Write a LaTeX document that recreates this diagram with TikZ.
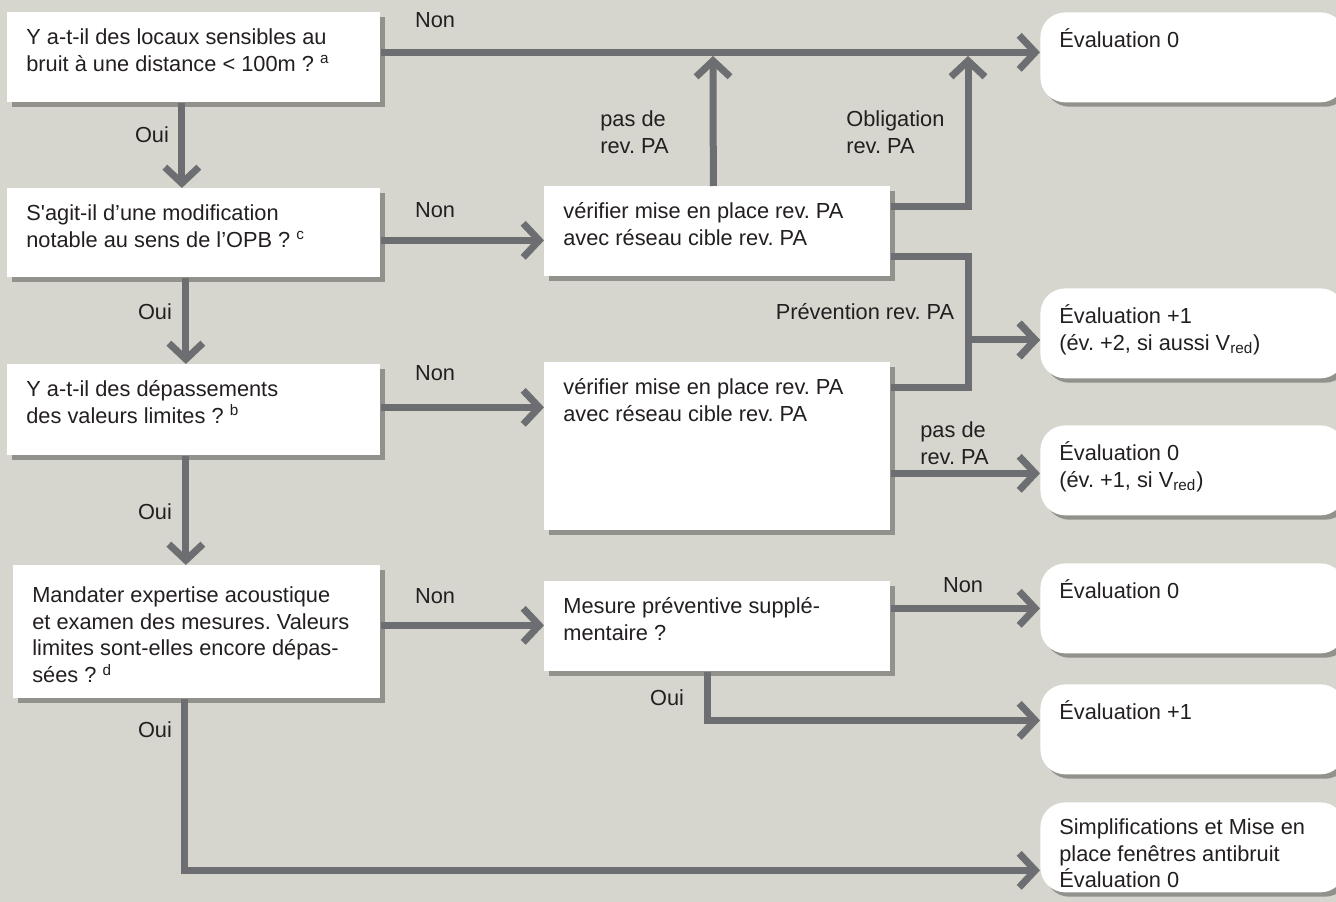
\documentclass[tikz,border=0pt]{standalone}
\usepackage{fontspec}
\setmainfont{Liberation Sans}[Ligatures=TeXOff]
\usetikzlibrary{arrows.meta,positioning,calc,shadows}
\definecolor{Ground}{HTML}{D6D6CE}
\definecolor{Wire}{HTML}{6D6E71}
\definecolor{Ink}{HTML}{231F20}
\newlength\pu
\setlength\pu{0.02cm}
\frenchspacing
\tikzset{
  card/.style 2 args={fill=white,text=Ink,anchor=north west,inner xsep=19\pu,inner ysep=0pt,
    text height=16\pu,text depth=#2\pu,
    execute at begin node={\begin{minipage}[t]{#1\pu}\raggedright},execute at end node={\end{minipage}},
    drop shadow={shadow xshift=2.5pt,shadow yshift=-2.5pt,opacity=.45,fill=black!75}},
  query/.style={card={335}{#1}},
  check/.style={card={308}{#1}},
  verdict/.style={card={267}{74},rounded corners=25\pu},
  flow/.style={draw=Wire,line width=7\pu,-{Straight Barb[length=.32cm,width=.68cm]}},
  tag/.style={text=Ink,inner sep=0pt,align=left}
}
\begin{document}
\begin{tikzpicture}[x=0.02cm,y=-0.02cm,font=\fontsize{12.4}{15.3}\selectfont]
  \useasboundingbox (0,0) rectangle (1336,902);
  \fill[Ground] (0,0) rectangle (1336,902);
  % questions
  \node[query=74] (q1) at (7,12) {Y a-t-il des locaux sensibles au\\bruit à une distance < 100m ? \textsuperscript{a}};
  \node[query=73] (q2) at (7,188) {S'agit-il d’une modification\\notable au sens de l’OPB ? \textsuperscript{c}};
  \node[query=75] (q3) at (7,364) {Y a-t-il des dépassements\\des valeurs limites ? \textsuperscript{b}};
  \node[card={329}{112},text height=21\pu] (q4) at (13,565) {Mandater expertise acoustique\\et examen des mesures. Valeurs\\limites sont-elles encore dépas-\\sées ? \textsuperscript{d}};
  % checks
  \node[check=74] (m1) at (544,186) {vérifier mise en place rev. PA\\avec réseau cible rev. PA};
  \node[check=152] (m2) at (544,362) {vérifier mise en place rev. PA\\avec réseau cible rev. PA};
  \node[check=74] (m3) at (544,581) {Mesure préventive supplé-\\mentaire ?};
  % results
  \node[verdict] (r1) at (1040,12) {Évaluation 0};
  \node[verdict] (r2) at (1040,288) {Évaluation +1\\(év. +2, si aussi V\textsubscript{red})};
  \node[verdict] (r3) at (1040,425) {Évaluation 0\\(év. +1, si V\textsubscript{red})};
  \node[verdict] (r4) at (1040,563) {Évaluation 0};
  \node[verdict] (r5) at (1040,684) {Évaluation +1};
  \node[verdict] (r6) at (1040,802) {Simplifications et Mise en\\place fenêtres antibruit\\Évaluation 0};
  \coordinate (pasde) at (713,56);
  \coordinate (oblig) at (968,56);
  \coordinate (join) at (968,340);
  % connectors
  \draw[flow] ($(q1.east)+(0,-5)$) -- ($(q1.east -| r1.west)+(0,-5)$);
  \draw[flow] ($(q1.south)+(-12,0)$) -- ($(q2.north)+(-12,0)$);
  \draw[flow] ($(q2.east)+(0,7.5)$) -- ($(q2.east -| m1.west)+(0,7.5)$);
  \draw[flow] ($(q2.south)+(-8,0)$) -- ($(q3.north)+(-8,0)$);
  \draw[flow] ($(q3.east)+(0,-2.5)$) -- ($(q3.east -| m2.west)+(0,-2.5)$);
  \draw[flow] ($(q3.south)+(-8,0)$) -- ($(q3.south |- q4.north)+(-8,0)$);
  \draw[flow] ($(q4.east)+(0,-6.5)$) -- ($(q4.east -| m3.west)+(0,-6.5)$);
  \draw[flow] ($(q4.south)+(-12.5,0)$) |- ($(r6.west)+(0,23)$);
  \draw[flow] ($(m1.north)+(-4,0)$) -- (pasde);
  \draw[flow] ($(m1.east)+(0,-25)$) -| (oblig);
  \draw[flow] ($(m1.east)+(0,25)$) -| (join) -- (join -| r2.west);
  \draw[flow] ($(m2.east)+(0,-59)$) -| (join) -- (join -| r2.west);
  \draw[flow] ($(m2.east)+(0,27)$) -- ($(m2.east -| r3.west)+(0,27)$);
  \draw[flow] ($(m3.east)+(0,-18)$) -- ($(m3.east -| r4.west)+(0,-18)$);
  \draw[flow] ($(m3.south)+(-10,0)$) |- ($(r5.west)+(0,-9)$);
  % labels
  \node[tag] (non1) at (435,20) {Non};
  \node[tag] (oui1) at (152,135) {Oui};
  \node[tag] (non2) at (435,210) {Non};
  \node[tag] (oui2) at (155,312) {Oui};
  \node[tag] (non3) at (435,373) {Non};
  \node[tag] (oui3) at (155,512) {Oui};
  \node[tag] (non4) at (435,596) {Non};
  \node[tag] (oui4) at (155,730) {Oui};
  \node[tag,anchor=west] (pasde1) at (600,132) {pas de\\rev. PA};
  \node[tag,anchor=west] (oblig1) at (846,132) {Obligation\\rev. PA};
  \node[tag] (prev1) at (865,312) {Prévention rev. PA};
  \node[tag,anchor=west] (pasde2) at (920,443) {pas de\\rev. PA};
  \node[tag] (non5) at (963,585) {Non};
  \node[tag] (oui5) at (667,698) {Oui};
\end{tikzpicture}
\end{document}
